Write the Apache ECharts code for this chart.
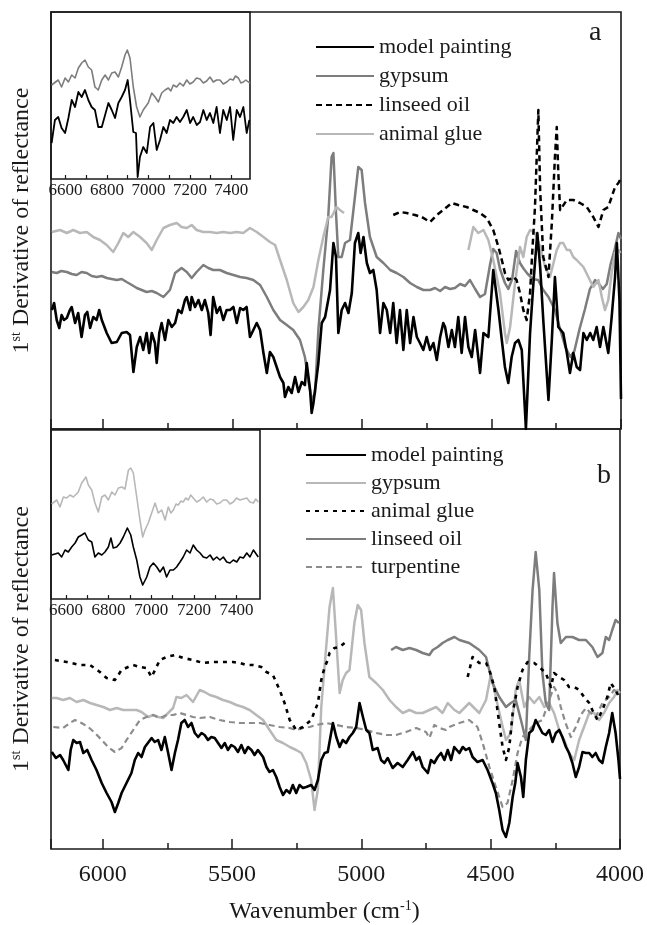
<!DOCTYPE html>
<html>
<head>
<meta charset="utf-8">
<script src="https://cdn.jsdelivr.net/npm/echarts@6.0.0/dist/echarts.min.js"></script>
<style>
  html, body { margin: 0; padding: 0; background: #fff; }
  #chart { width: 647px; height: 925px; }
</style>
</head>
<body>
<div id="chart"></div>
<script>
// wavenumber (cm-1), 1st derivative (arbitrary units)
const aModel = [[6197,119],[6188,126],[6178,109],[6168,101],[6159,114],[6150,109],[6139,111],[6127,119],[6120,122],[6107,106],[6095,116],[6082,92],[6069,114],[6060,117],[6049,101],[6037,112],[6024,109],[6014,119],[6004,109],[5985,96],[5966,86],[5946,87],[5927,96],[5908,97],[5895,94],[5882,57],[5869,82],[5856,92],[5844,79],[5831,96],[5821,76],[5811,96],[5799,86],[5792,66],[5782,96],[5773,106],[5760,89],[5747,109],[5734,102],[5721,106],[5709,119],[5696,116],[5683,129],[5676,132],[5663,119],[5657,132],[5644,122],[5631,129],[5618,119],[5606,129],[5593,116],[5584,94],[5574,132],[5560,116],[5548,122],[5535,109],[5522,119],[5509,119],[5496,122],[5483,106],[5470,121],[5458,119],[5445,122],[5432,92],[5419,99],[5406,106],[5393,99],[5380,76],[5367,56],[5355,77],[5342,72],[5329,62],[5316,52],[5303,46],[5297,32],[5284,42],[5271,36],[5258,52],[5245,37],[5232,47],[5220,44],[5213,66],[5200,39],[5194,16],[5187,26],[5168,66],[5155,106],[5142,112],[5123,139],[5110,186],[5100,172],[5091,96],[5078,119],[5065,126],[5052,116],[5039,136],[5027,186],[5014,196],[5005,176],[4994,192],[4981,166],[4969,156],[4956,159],[4943,139],[4930,96],[4917,126],[4904,119],[4891,96],[4879,126],[4866,86],[4853,119],[4840,79],[4827,119],[4814,86],[4801,112],[4788,92],[4776,86],[4763,79],[4750,92],[4737,79],[4724,86],[4711,69],[4698,92],[4686,106],[4679,102],[4666,82],[4653,99],[4641,82],[4628,112],[4615,76],[4602,112],[4589,82],[4576,72],[4563,99],[4544,56],[4531,96],[4512,92],[4493,159],[4473,119],[4460,89],[4448,62],[4435,46],[4422,72],[4409,86],[4396,89],[4383,79],[4367,0],[4351,96],[4338,146],[4323,196],[4312,162],[4300,109],[4280,29],[4267,89],[4255,152],[4242,102],[4223,96],[4209,76],[4197,56],[4184,76],[4171,62],[4158,59],[4145,96],[4132,89],[4119,96],[4107,89],[4094,102],[4081,82],[4068,102],[4049,76],[4036,112],[4023,152],[4016,186],[4006,129],[4000,30]];

const aGypsum = [[6197,157],[6178,156],[6160,158],[6139,157],[6120,155],[6101,154],[6082,157],[6062,156],[6043,153],[6024,152],[6004,153],[5985,151],[5966,150],[5946,149],[5927,150],[5908,147],[5888,144],[5869,141],[5850,139],[5831,137],[5811,138],[5792,136],[5766,132],[5741,139],[5721,156],[5696,161],[5676,157],[5657,151],[5638,157],[5612,164],[5593,161],[5574,159],[5548,159],[5522,156],[5496,154],[5470,152],[5445,151],[5419,149],[5393,144],[5367,132],[5342,119],[5316,109],[5290,104],[5265,99],[5239,89],[5220,72],[5207,49],[5194,29],[5181,36],[5168,99],[5149,159],[5130,212],[5117,272],[5110,276],[5100,216],[5091,172],[5078,172],[5065,186],[5046,189],[5027,232],[5014,262],[5001,259],[4988,226],[4969,192],[4943,172],[4917,166],[4891,159],[4866,156],[4840,152],[4814,146],[4788,142],[4763,139],[4737,139],[4718,141],[4698,138],[4679,142],[4660,140],[4641,141],[4621,145],[4602,143],[4583,149],[4563,140],[4544,132],[4525,135],[4505,165],[4493,180],[4480,176],[4467,160],[4448,146],[4435,140],[4420,150],[4405,178],[4390,166],[4375,160],[4360,155],[4340,150],[4320,149],[4300,139],[4280,132],[4255,119],[4235,100],[4215,82],[4195,72],[4180,78],[4160,100],[4140,119],[4120,140],[4100,149],[4085,145],[4070,140],[4055,145],[4040,165],[4025,179],[4010,196],[4000,190]];

const aLinseed = [[4879,214],[4853,217],[4827,216],[4795,214],[4769,212],[4737,207],[4711,214],[4686,219],[4653,226],[4628,224],[4596,222],[4570,219],[4544,216],[4518,211],[4493,199],[4473,182],[4460,169],[4448,156],[4435,149],[4415,152],[4403,149],[4390,136],[4377,119],[4364,109],[4351,136],[4342,179],[4332,222],[4319,319],[4312,239],[4300,172],[4280,152],[4267,206],[4255,272],[4248,302],[4242,256],[4235,219],[4209,229],[4184,229],[4158,226],[4132,222],[4107,212],[4087,202],[4068,219],[4049,222],[4036,232],[4023,242],[4010,246],[4002,250]];

const aGlue = [[6197,197],[6165,199],[6139,196],[6114,199],[6088,196],[6062,197],[6037,192],[6011,189],[5985,184],[5960,177],[5940,186],[5921,196],[5902,192],[5882,197],[5856,192],[5831,186],[5811,179],[5792,189],[5766,201],[5741,204],[5715,206],[5696,202],[5676,201],[5657,204],[5638,199],[5612,197],[5586,197],[5561,196],[5535,197],[5509,196],[5483,197],[5458,196],[5432,201],[5406,197],[5380,192],[5355,187],[5335,184],[5316,169],[5290,149],[5265,126],[5245,117],[5226,122],[5207,129],[5187,142],[5168,169],[5149,192],[5130,212],[5117,212],[5098,222],[5085,219],[5069,216],[4800,null],
  [4589,179],[4570,202],[4551,196],[4531,199],[4512,189],[4493,169],[4467,136],[4448,96],[4441,86],[4428,102],[4409,146],[4390,182],[4377,172],[4364,192],[4351,199],[4332,196],[4312,182],[4293,162],[4274,152],[4248,179],[4235,186],[4223,186],[4209,179],[4197,179],[4184,172],[4171,169],[4145,162],[4126,152],[4107,142],[4087,149],[4074,132],[4062,119],[4049,129],[4036,156],[4023,176],[4010,179],[4002,176]];

const aInsetGypsum = [[6533,94],[6541,96],[6565,99],[6581,92],[6598,101],[6614,97],[6630,104],[6646,101],[6662,111],[6678,116],[6694,119],[6710,112],[6726,109],[6742,92],[6758,89],[6775,99],[6791,104],[6807,99],[6823,106],[6839,107],[6855,102],[6871,112],[6887,124],[6898,129],[6911,121],[6927,92],[6943,72],[6959,62],[6975,69],[6999,76],[7016,86],[7032,82],[7048,77],[7064,86],[7080,89],[7096,91],[7108,88],[7120,94],[7136,92],[7152,96],[7168,93],[7185,99],[7200,95],[7216,97],[7232,101],[7249,100],[7265,96],[7281,98],[7297,102],[7313,97],[7329,99],[7345,99],[7361,95],[7378,97],[7394,100],[7409,99],[7420,103],[7434,101],[7446,96],[7458,97],[7470,99],[7482,97],[7490,96]];

const aInsetModel = [[6533,36],[6549,59],[6565,62],[6581,51],[6598,46],[6614,61],[6630,79],[6646,72],[6662,87],[6678,82],[6694,89],[6710,79],[6726,72],[6742,69],[6758,52],[6775,52],[6791,64],[6807,76],[6823,69],[6839,61],[6855,76],[6871,82],[6887,89],[6900,99],[6911,79],[6927,47],[6940,46],[6948,2],[6959,22],[6975,32],[6992,26],[7008,52],[7024,56],[7040,29],[7056,39],[7072,52],[7088,46],[7104,59],[7120,56],[7136,62],[7152,57],[7168,62],[7185,69],[7201,56],[7216,62],[7233,54],[7249,57],[7265,69],[7281,59],[7297,66],[7313,56],[7329,72],[7345,46],[7361,69],[7378,59],[7394,72],[7409,39],[7426,69],[7442,62],[7458,72],[7474,46],[7487,59]];

const bModel = [[6197,97],[6181,91],[6165,94],[6153,89],[6133,79],[6124,99],[6114,109],[6101,106],[6088,107],[6075,96],[6060,99],[6043,89],[6024,79],[6004,66],[5985,56],[5966,47],[5953,37],[5940,46],[5927,56],[5908,66],[5889,76],[5876,89],[5863,96],[5850,92],[5837,102],[5811,111],[5799,107],[5786,109],[5773,99],[5760,112],[5747,96],[5734,79],[5721,96],[5709,109],[5696,126],[5683,129],[5670,122],[5657,126],[5644,116],[5631,112],[5618,116],[5606,114],[5593,109],[5580,112],[5567,111],[5554,106],[5541,101],[5528,106],[5516,99],[5503,104],[5490,102],[5477,97],[5464,104],[5451,96],[5438,102],[5425,99],[5413,94],[5400,99],[5380,92],[5367,82],[5355,77],[5342,79],[5329,72],[5316,62],[5303,54],[5290,59],[5277,56],[5265,64],[5252,56],[5239,64],[5226,61],[5213,62],[5194,64],[5181,59],[5168,69],[5155,89],[5142,96],[5130,97],[5110,126],[5097,112],[5084,102],[5072,109],[5059,106],[5046,112],[5033,116],[5020,122],[5007,146],[4994,132],[4981,119],[4969,116],[4956,99],[4937,101],[4924,89],[4911,86],[4898,91],[4879,81],[4860,86],[4840,82],[4821,89],[4801,97],[4788,89],[4776,92],[4763,82],[4743,76],[4731,89],[4718,86],[4705,92],[4692,96],[4679,89],[4666,99],[4653,89],[4641,102],[4621,96],[4608,102],[4596,99],[4583,101],[4570,92],[4551,87],[4531,89],[4512,79],[4493,66],[4480,56],[4467,39],[4454,19],[4441,12],[4428,26],[4415,52],[4405,66],[4396,86],[4383,72],[4374,52],[4364,89],[4351,116],[4338,119],[4326,129],[4312,122],[4300,116],[4287,114],[4274,119],[4261,107],[4248,116],[4235,119],[4223,112],[4209,102],[4197,96],[4184,86],[4171,72],[4158,82],[4145,97],[4132,96],[4119,96],[4107,92],[4094,96],[4081,89],[4068,86],[4055,102],[4042,116],[4030,136],[4017,116],[4006,89],[4000,70]];

const bGypsum = [[6197,151],[6178,151],[6153,149],[6127,151],[6101,147],[6075,149],[6049,146],[6024,144],[5998,142],[5972,139],[5946,141],[5921,139],[5895,139],[5869,139],[5850,137],[5824,132],[5805,134],[5786,132],[5766,131],[5747,136],[5728,141],[5715,152],[5696,151],[5676,154],[5651,147],[5625,159],[5606,157],[5586,154],[5561,152],[5535,149],[5509,147],[5483,144],[5458,142],[5432,139],[5406,134],[5380,129],[5355,119],[5329,109],[5303,106],[5277,102],[5252,99],[5232,96],[5213,86],[5194,69],[5181,39],[5168,60],[5155,142],[5136,202],[5123,242],[5110,261],[5097,209],[5084,156],[5072,169],[5059,176],[5046,179],[5027,226],[5014,244],[5001,239],[4988,206],[4969,172],[4943,166],[4917,159],[4891,149],[4866,142],[4840,136],[4814,139],[4788,136],[4763,136],[4737,139],[4711,142],[4686,136],[4666,146],[4640,139],[4621,136],[4583,146],[4544,136],[4518,149],[4499,175],[4480,152],[4460,129],[4441,109],[4422,116],[4403,159],[4390,169],[4370,142],[4351,152],[4332,146],[4312,152],[4293,142],[4274,146],[4255,136],[4235,119],[4216,109],[4197,96],[4177,89],[4158,109],[4139,122],[4119,136],[4100,136],[4081,129],[4062,136],[4042,146],[4023,152],[4010,159],[4000,156]];

const bGlue = [[6185,189],[6139,187],[6088,184],[6049,184],[6011,177],[5985,171],[5953,169],[5927,179],[5902,182],[5882,184],[5856,182],[5831,181],[5811,172],[5779,189],[5753,192],[5721,194],[5689,191],[5651,189],[5612,186],[5574,187],[5535,187],[5496,187],[5470,186],[5445,184],[5419,184],[5387,182],[5367,177],[5342,174],[5316,159],[5297,146],[5277,129],[5252,119],[5226,122],[5194,129],[5168,146],[5155,169],[5142,182],[5130,189],[5123,196],[5104,201],[5084,202],[5065,206],[4800,null],
  [4589,172],[4570,192],[4544,186],[4518,186],[4505,179],[4486,162],[4467,126],[4454,102],[4441,89],[4428,102],[4415,136],[4396,162],[4377,179],[4357,187],[4332,186],[4312,182],[4287,176],[4267,162],[4255,176],[4235,172],[4216,169],[4197,162],[4177,162],[4158,159],[4139,152],[4119,146],[4107,139],[4087,129],[4068,139],[4049,152],[4036,166],[4017,159],[4004,152]];

const bLinseed = [[4885,199],[4866,202],[4840,199],[4814,201],[4788,199],[4763,196],[4737,194],[4724,199],[4705,202],[4686,206],[4666,209],[4640,212],[4621,209],[4583,206],[4544,199],[4518,192],[4493,166],[4467,152],[4441,142],[4422,146],[4403,149],[4383,129],[4364,109],[4351,192],[4338,259],[4326,297],[4312,259],[4300,176],[4287,146],[4274,139],[4261,242],[4255,276],[4242,226],[4229,206],[4209,212],[4184,212],[4158,209],[4132,209],[4107,202],[4087,192],[4068,196],[4055,212],[4042,209],[4030,219],[4017,229],[4004,226]];

const bTurpentine = [[6191,122],[6153,121],[6127,126],[6107,129],[6082,126],[6056,122],[6030,116],[6004,109],[5979,102],[5953,97],[5927,101],[5908,109],[5882,119],[5856,129],[5831,132],[5805,134],[5779,131],[5753,134],[5728,134],[5702,136],[5676,134],[5651,132],[5625,131],[5586,132],[5548,129],[5509,127],[5470,126],[5432,126],[5393,126],[5355,124],[5316,122],[5277,121],[5252,119],[5226,121],[5200,122],[5175,124],[5136,126],[5097,124],[5059,122],[5020,121],[4981,119],[4943,116],[4904,114],[4866,114],[4827,117],[4788,121],[4750,117],[4737,111],[4718,124],[4698,121],[4673,119],[4660,122],[4621,126],[4583,129],[4551,122],[4531,106],[4505,82],[4480,62],[4454,42],[4435,46],[4415,69],[4396,96],[4377,112],[4351,119],[4326,126],[4300,129],[4274,149],[4255,162],[4242,156],[4229,142],[4212,127],[4190,112],[4171,122],[4152,134],[4132,141],[4113,136],[4094,132],[4068,146],[4042,152],[4023,159],[4004,156]];

const bInsetGypsum = [[6533,95],[6541,96],[6557,99],[6572,92],[6588,102],[6604,101],[6619,104],[6635,102],[6658,107],[6674,116],[6694,122],[6705,114],[6721,109],[6736,96],[6752,87],[6768,102],[6783,104],[6799,99],[6815,107],[6830,104],[6846,111],[6862,112],[6877,110],[6893,129],[6904,131],[6916,126],[6932,102],[6947,79],[6960,62],[6971,69],[6986,76],[7002,86],[7018,96],[7033,86],[7049,89],[7065,79],[7080,92],[7092,86],[7104,89],[7116,95],[7127,94],[7139,98],[7150,97],[7162,101],[7174,99],[7185,104],[7197,101],[7213,97],[7229,99],[7244,102],[7260,97],[7276,100],[7291,99],[7307,95],[7322,96],[7338,99],[7354,99],[7369,95],[7385,97],[7400,101],[7416,99],[7432,100],[7448,101],[7463,97],[7479,96],[7490,100],[7502,97]];

const bInsetModel = [[6533,44],[6541,42],[6564,46],[6580,42],[6596,49],[6611,47],[6627,52],[6643,56],[6658,62],[6674,64],[6689,66],[6705,59],[6721,57],[6736,42],[6752,46],[6768,44],[6783,47],[6799,52],[6811,61],[6822,51],[6838,52],[6854,56],[6869,62],[6888,71],[6904,64],[6916,52],[6932,39],[6947,22],[6960,14],[6979,22],[6994,32],[7010,36],[7026,32],[7041,27],[7057,32],[7072,22],[7088,29],[7104,29],[7119,32],[7135,37],[7150,42],[7166,49],[7182,46],[7197,54],[7213,49],[7229,46],[7244,42],[7260,41],[7276,44],[7291,39],[7307,42],[7322,39],[7338,42],[7354,37],[7369,36],[7385,39],[7401,37],[7416,42],[7432,41],[7448,46],[7463,42],[7479,49],[7502,42]];

const mainTicks = [4000, 4500, 5000, 5500, 6000];
const insetLabels = [6600, 6800, 7000, 7200, 7400];
const insetTicks = [6600, 6700, 6800, 6900, 7000, 7100, 7200, 7300, 7400];

const serif = 'Liberation Serif';
const ink = '#1a1a1a';
const black = '#000';
const midGray = '#7d7d7d';
const lightGray = '#b8b8b8';

const chart = echarts.init(document.getElementById('chart'), null, { renderer: 'canvas' });

const frame = { show: true, borderColor: ink, borderWidth: 1.6, backgroundColor: 'transparent' };
const plain = v => String(v);

const mainX = (gridIndex, withLabels) => ({
  gridIndex,
  type: 'value',
  min: 4000,
  max: 6200,
  interval: 500,
  inverse: true,
  axisLine: { show: false },
  axisTick: { show: true, inside: true, length: 10, lineStyle: { color: ink, width: 1.5 } },
  minorTick: { show: true, splitNumber: 2, length: 6, lineStyle: { color: ink, width: 1.5 } },
  splitLine: { show: false },
  minorSplitLine: { show: false },
  axisLabel: {
    show: withLabels,
    customValues: mainTicks,
    formatter: plain,
    fontFamily: serif, fontSize: 24, color: ink, margin: 14
  },
  name: withLabels ? '{t|Wavenumber (cm}{s|-1}{t|)}' : '',
  nameLocation: 'middle',
  nameGap: 50,
  nameTextStyle: {
    padding: [0, 22, 0, 0],
    rich: {
      t: { fontFamily: serif, fontSize: 24, color: ink, lineHeight: 26 },
      s: { fontFamily: serif, fontSize: 14, color: ink, lineHeight: 14, verticalAlign: 'top' }
    }
  }
});

const insetX = (gridIndex, max) => ({
  gridIndex,
  type: 'value',
  min: 6530,
  max: max,
  axisLine: { show: false },
  axisTick: { show: true, inside: true, length: 4, customValues: insetTicks, lineStyle: { color: ink, width: 1.2 } },
  splitLine: { show: false },
  axisLabel: { customValues: insetLabels, formatter: plain, fontFamily: serif, fontSize: 17, color: ink, margin: 3 }
});

const mainY = (gridIndex, max) => ({
  gridIndex,
  type: 'value',
  min: 0,
  max: max,
  axisLine: { show: false },
  axisTick: { show: false },
  axisLabel: { show: false },
  splitLine: { show: false },
  name: '{n|1}{s|st}{n| Derivative of reflectance}',
  nameLocation: 'middle',
  nameRotate: 90,
  nameGap: 16,
  nameTextStyle: {
    rich: {
      n: { fontFamily: serif, fontSize: 24, color: ink, lineHeight: 26 },
      s: { fontFamily: serif, fontSize: 14, color: ink, lineHeight: 14, verticalAlign: 'top' }
    }
  }
});

const insetY = (gridIndex, max) => ({
  gridIndex, type: 'value', min: 0, max: max, show: false, splitLine: { show: false }
});

const line = (name, data, xi, color, width, type, z) => ({
  name,
  type: 'line',
  xAxisIndex: xi,
  yAxisIndex: xi,
  data,
  symbol: 'none',
  connectNulls: false,
  lineStyle: { color, width, type: type || 'solid', join: 'round' },
  itemStyle: { color },
  z: z || 2,
  animation: false
});

const legendText = { fontFamily: serif, fontSize: 22, color: ink };
const stripPanel = name => name.replace(/ \([ab]\)$/, '');
const legendBase = {
  orient: 'vertical', padding: 0, itemHeight: 12,
  selectedMode: false, textStyle: legendText, formatter: stripPanel,
  itemStyle: { opacity: 0, borderWidth: 0 }
};

const option = {
  backgroundColor: '#fff',
  animation: false,
  title: [
    { text: 'a', left: 584, top: 14, textStyle: { fontFamily: serif, fontSize: 28, fontWeight: 'normal', color: ink } },
    { text: 'b', left: 592, top: 457, textStyle: { fontFamily: serif, fontSize: 28, fontWeight: 'normal', color: ink } }
  ],
  legend: [
    Object.assign({}, legendBase, {
      left: 315, top: 36, itemWidth: 58, itemGap: 7,
      data: ['model painting (a)', 'gypsum (a)', 'linseed oil (a)', 'animal glue (a)']
    }),
    Object.assign({}, legendBase, {
      left: 305, top: 444, itemWidth: 60, itemGap: 6,
      data: ['model painting (b)', 'gypsum (b)', 'animal glue (b)', 'linseed oil (b)', 'turpentine (b)']
    })
  ],
  grid: [
    Object.assign({ left: 51, top: 12, width: 570, height: 417 }, frame),
    Object.assign({ left: 51, top: 429, width: 570, height: 420 }, frame),
    Object.assign({ left: 51, top: 12, width: 199, height: 167 }, frame),
    Object.assign({ left: 51, top: 430, width: 209, height: 169 }, frame)
  ],
  xAxis: [mainX(0, false), mainX(1, true), insetX(2, 7490), insetX(3, 7510)],
  yAxis: [mainY(0, 417), mainY(1, 420), insetY(2, 167), insetY(3, 169)],
  series: [
    line('gypsum (a)', aGypsum, 0, midGray, 2.5),
    line('animal glue (a)', aGlue, 0, lightGray, 2.5),
    line('linseed oil (a)', aLinseed, 0, black, 2.5, [6, 4]),
    line('model painting (a)', aModel, 0, black, 2.6, null, 3),
    line('gypsum (b)', bGypsum, 1, lightGray, 2.5),
    line('linseed oil (b)', bLinseed, 1, midGray, 2.5),
    line('turpentine (b)', bTurpentine, 1, '#8c8c8c', 2.2, [6, 4]),
    line('animal glue (b)', bGlue, 1, black, 2.6, [4, 5]),
    line('model painting (b)', bModel, 1, black, 2.6, null, 3),
    line('inset gypsum a', aInsetGypsum, 2, midGray, 1.6),
    line('inset model a', aInsetModel, 2, black, 1.8),
    line('inset gypsum b', bInsetGypsum, 3, lightGray, 1.6),
    line('inset model b', bInsetModel, 3, black, 1.6)
  ]
};

chart.setOption(option);
</script>
</body>
</html>
